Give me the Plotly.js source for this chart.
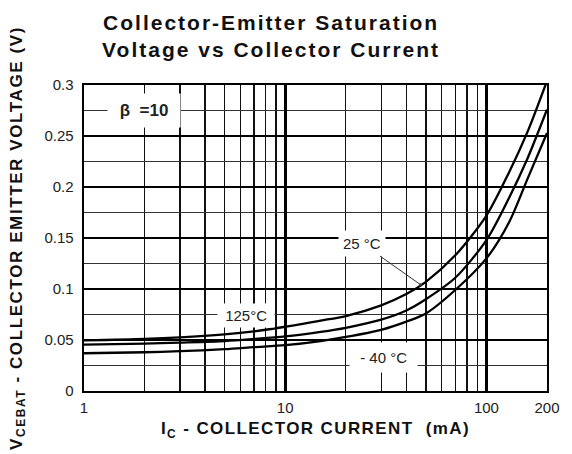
<!DOCTYPE html>
<html>
<head>
<meta charset="utf-8">
<script src="https://cdn.plot.ly/plotly-3.0.1.min.js"></script>
<style>
html,body{margin:0;padding:0;background:#fff;}
#chart{width:572px;height:454px;}
#chart .gtitle{letter-spacing:2px;}
#chart .xtitle{letter-spacing:1.4px;}
#chart .ytitle{letter-spacing:1.6px;}
</style>
</head>
<body>
<div id="chart"></div>
<script>
// Collector current (mA)
const currentMA = [1, 2, 3, 5, 7, 10, 15, 20, 30, 40, 50, 70, 100, 130, 160, 200];
// V_CE(sat) (V)
const vce25C   = [0.0497, 0.0510, 0.0525, 0.0555, 0.0585, 0.0630, 0.0690, 0.0735, 0.0840, 0.0950, 0.1070, 0.1330, 0.1720, 0.2150, 0.2540, 0.3040];
const vce125C  = [0.0455, 0.0465, 0.0475, 0.0490, 0.0510, 0.0535, 0.0580, 0.0620, 0.0700, 0.0790, 0.0900, 0.1110, 0.1480, 0.1900, 0.2280, 0.2760];
const vceM40C  = [0.0370, 0.0380, 0.0390, 0.0410, 0.0430, 0.0450, 0.0490, 0.0530, 0.0600, 0.0680, 0.0760, 0.0990, 0.1300, 0.1660, 0.2080, 0.2530];

const xTickVals = [1, 10, 100, 200];
const xTickText = ['1', '10', '100', '200'];
const xMinorVals = [2, 3, 4, 5, 6, 7, 8, 9, 20, 30, 40, 50, 60, 70, 80, 90];
const yTickVals = [0, 0.05, 0.1, 0.15, 0.2, 0.25, 0.3];
const yTickText = ['0', '0.05', '0.1', '0.15', '0.2', '0.25', '0.3'];

const lineStyle = {color: '#000', width: 2.3, shape: 'spline', smoothing: 0.8};
const traces = [
  {x: currentMA, y: vce25C, mode: 'lines', line: lineStyle, name: '25 °C'},
  {x: currentMA, y: vce125C, mode: 'lines', line: lineStyle, name: '125°C'},
  {x: currentMA, y: vceM40C, mode: 'lines', line: lineStyle, name: '- 40 °C'}
];

const fam = 'Liberation Sans, Arial, sans-serif';
const layout = {
  width: 572, height: 454,
  margin: {l: 84, r: 25, t: 85, b: 63, pad: 0},
  paper_bgcolor: '#fff', plot_bgcolor: '#fff',
  showlegend: false,
  font: {family: fam, color: '#222'},
  title: {
    text: '<b>Collector-Emitter Saturation<br>Voltage vs Collector Current</b>',
    font: {family: fam, size: 21, color: '#111'},
    x: 0.474, xref: 'container', xanchor: 'center',
    y: 0.935, yref: 'container', yanchor: 'top'
  },
  xaxis: {
    type: 'log', range: [0, Math.log10(200)],
    tickmode: 'array', tickvals: xTickVals, ticktext: xTickText,
    tickfont: {family: fam, size: 15, color: '#222'},
    ticks: '', ticklabelstandoff: 2,
    showgrid: true, gridcolor: '#000', gridwidth: 2.6,
    minor: {tickmode: 'array', tickvals: xMinorVals, showgrid: true, gridcolor: '#111', gridwidth: 1.4, ticks: ''},
    showline: true, linecolor: '#000', linewidth: 2.4, mirror: true,
    zeroline: false,
    title: {text: '<b>I<sub>C</sub> - COLLECTOR CURRENT  (mA)</b>', font: {family: fam, size: 17, color: '#111'}, standoff: 7}
  },
  yaxis: {
    range: [0, 0.3],
    tickmode: 'array', tickvals: yTickVals, ticktext: yTickText,
    tickfont: {family: fam, size: 15, color: '#222'},
    ticks: '', ticklabelstandoff: 5,
    showgrid: true, gridcolor: '#000', gridwidth: 2.2,
    minor: {dtick: 0.025, showgrid: true, gridcolor: '#333', gridwidth: 1.3, ticks: ''},
    showline: true, linecolor: '#000', linewidth: 2.4, mirror: true,
    zeroline: false,
    title: {text: '<b>V<sub>CEBAT</sub> - COLLECTOR EMITTER VOLTAGE (V)</b>', font: {family: fam, size: 17, color: '#111'}, standoff: 18}
  },
  annotations: [
    {x: 0.299, y: 0.275, xref: 'x', yref: 'y', text: '<b>&nbsp;β  =10&nbsp;</b>', showarrow: false,
     font: {family: fam, size: 17, color: '#222'}, bgcolor: '#fff', borderpad: 7},
    {x: 0.807, y: 0.0745, xref: 'x', yref: 'y', text: '&nbsp;125°C&nbsp;', showarrow: false,
     font: {family: fam, size: 15, color: '#222'}, bgcolor: '#fff', borderpad: 3},
    {x: 1.674, y: 0.104, xref: 'x', yref: 'y', ax: 1.380, ay: 0.145, axref: 'x', ayref: 'y',
     text: '25 °C', showarrow: true, arrowhead: 6, arrowsize: 0.8, arrowwidth: 1, arrowcolor: '#333', standoff: 0,
     font: {family: fam, size: 15, color: '#222'}, bgcolor: '#fff', borderpad: 4},
    {x: 1.490, y: 0.0333, xref: 'x', yref: 'y', text: '&nbsp;- 40 °C&nbsp;', showarrow: false,
     font: {family: fam, size: 15, color: '#222'}, bgcolor: '#fff', borderpad: 6}
  ]
};

Plotly.newPlot('chart', traces, layout, {staticPlot: true, displayModeBar: false});
</script>
</body>
</html>
